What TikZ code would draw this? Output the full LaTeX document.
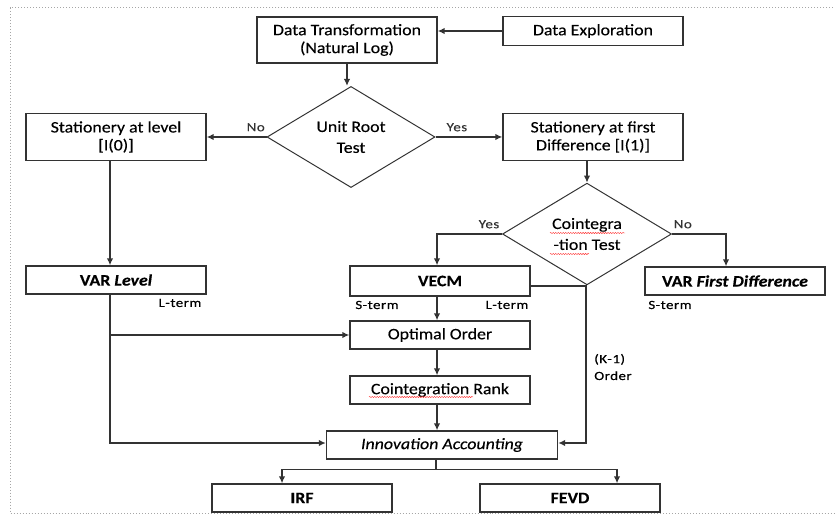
\documentclass[tikz,border=0pt]{standalone}
\usepackage{fontspec}
\setmainfont{Carlito}[FakeStretch=1.12, FakeBold=0.3]
\newfontfamily\lblfont{Carlito}[FakeStretch=1.2, LetterSpace=4, FakeBold=0.3]
\usetikzlibrary{shapes.geometric,arrows.meta,decorations.pathmorphing}

\tikzset{
  box/.style={draw=black!80, line width=1.3bp, minimum width=180bp, minimum height=28bp,
    align=center, inner sep=2pt, font=\fontsize{16}{18}\selectfont},
  decision/.style={diamond, draw=black!80, line width=1bp, inner sep=0pt,
    minimum width=168bp, minimum height=90bp, align=center, font=\fontsize{16}{21}\selectfont},
  flow/.style={->, >={Latex[length=7bp,width=6.5bp]}, line width=1.4bp, black!80},
  lbl/.style={font=\lblfont\fontsize{12.5}{17}\selectfont, inner sep=0pt},
  squig/.style={red!80, line width=0.45pt, decorate, decoration={snake, amplitude=0.6pt, segment length=2.5pt}}
}

\begin{document}
\begin{tikzpicture}[x=1bp, y=-1bp]
  \useasboundingbox (0,0) rectangle (835,514);
  \draw[gray!70, dotted, line width=1bp] (833,8) -- (10,8) -- (10,513) -- (835,513);

  % top
  \node[box, minimum height=46bp] (trans) at (347,40) {Data Transformation\\(Natural Log)};
  \node[box, minimum height=29bp] (explore) at (593,31) {Data Exploration};
  \node[decision] (unit) at (351,137) {Unit Root\\Test};
  \node[box, minimum height=47bp] (level) at (116,137) {Stationery at level\\{[I(0)]}};
  \node[box, minimum height=47bp] (first) at (593,137) {Stationery at first\\Difference [I(1)]};
  \node[decision, minimum width=169bp, minimum height=89bp] (coint) at (587,234) {Cointegra\\-tion Test};

  % models
  \node[box] (varlev) at (116,280) {\textbf{VAR \textit{Level}}};
  \node[box, minimum height=30bp] (vecm) at (440,281) {\textbf{VECM}};
  \node[box] (vardiff) at (735,281) {\textbf{VAR \textit{First Difference}}};
  \node[box] (optimal) at (440,335) {Optimal Order};
  \node[box] (rank) at (440,390) {Cointegration Rank};
  \node[box, minimum width=231bp] (innov) at (442,445) {\textit{Innovation Accounting}};
  \node[box] (irf) at (302,498) {\textbf{IRF}};
  \node[box] (fevd) at (570,498) {\textbf{FEVD}};

  \node[lbl] (lt1) at (180,303) {L-term};
  \node[lbl] (st1) at (377,305) {S-term};
  \node[lbl] (lt2) at (507,305) {L-term};
  \node[lbl] (st2) at (670,305) {S-term};
  \node[lbl, align=left] (korder) at (613,367) {(K-1)\\Order};

  % spell-check marks
  \draw[squig] (550,233) -- (625,233);
  \draw[squig] (550,254) -- (589,254);
  \draw[squig] (369,397) -- (473,397);

  % connectors
  \draw[flow] (explore.west) -- (explore.west -| trans.east);
  \draw[flow] (trans.south) -- (trans.south |- unit.north);
  \draw[flow] (unit.west) -- (level.east) node[lbl, above=5bp, pos=0.18] {No};
  \draw[flow] (unit.east) -- (first.west) node[lbl, above=5bp, pos=0.32] {Yes};
  \draw[flow] (coint.north |- first.south) -- (coint.north);
  \draw[flow] (coint.west) -| ([xshift=-3bp]vecm.north) node[lbl, above=5bp, pos=0.1] {Yes};
  \draw[flow] (coint.east) -| ([xshift=-9bp]vardiff.north) node[lbl, above=5bp, pos=0.1] {No};
  \draw[flow] ([xshift=-6bp]level.south) -- ([xshift=-6bp]varlev.north);

  \coordinate (lv) at ([xshift=-6bp]varlev.south);
  \draw[flow] (lv) |- ([yshift=2bp]innov.west);
  \draw[flow] (lv |- optimal.west) -- (optimal.west);

  \draw[flow] ([xshift=-3bp]vecm.south) -- ([xshift=-3bp]optimal.north);
  \draw[flow] ([xshift=-3bp]optimal.south) -- ([xshift=-3bp]rank.north);
  \draw[flow] ([xshift=-3bp]rank.south) -- ([xshift=-3bp]rank.south |- innov.north);
  \draw[flow] ([yshift=-5bp]vecm.east) -| ([xshift=-1bp,yshift=2bp]coint.south |- innov.east) -- ([yshift=2bp]innov.east);

  \coordinate (split) at ([xshift=-6bp,yshift=-10bp]innov.south);
  \draw[line width=1.4bp, black!80] ([xshift=-6bp]innov.south) -- (split);
  \draw[flow] (split) -| ([xshift=-20bp]irf.north);
  \draw[flow] (split) -| ([xshift=47bp]fevd.north);
\end{tikzpicture}
\end{document}
